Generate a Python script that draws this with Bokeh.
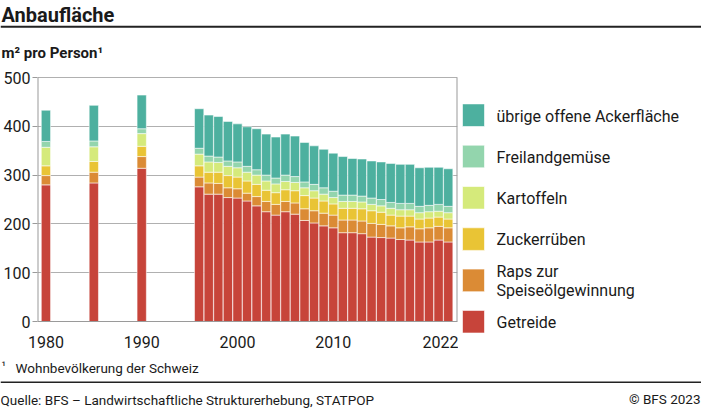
from bokeh.plotting import figure
from bokeh.layouts import column, row
from bokeh.models import ColumnDataSource, Label, BoxAnnotation, FixedTicker, Range1d
from bokeh.embed import file_html
from bokeh.resources import INLINE

# ---------------- data ----------------
years = [1980, 1985, 1990, 1996, 1997, 1998, 1999, 2000, 2001, 2002, 2003, 2004,
         2005, 2006, 2007, 2008, 2009, 2010, 2011, 2012, 2013, 2014, 2015, 2016,
         2017, 2018, 2019, 2020, 2021, 2022]
getreide = [280, 284, 314, 276, 261, 261, 254, 253, 247, 237, 225, 218,
            225, 220, 207, 202, 196, 192, 182, 182, 180, 173, 172, 171,
            168, 167, 163, 163, 167, 163]
raps = [19, 22, 24, 20, 23, 22, 20, 19, 16, 19, 21, 22,
        21, 23, 24, 25, 26, 26, 26, 26, 26, 28, 27, 25,
        24, 27, 27, 29, 28, 29]
zuckerrueben = [20, 22, 21, 23, 22, 23, 25, 24, 25, 25, 23, 24,
                24, 25, 27, 26, 25, 23, 24, 24, 25, 26, 25, 22,
                24, 22, 20, 20, 19, 18]
kartoffeln = [38, 30, 26, 24, 21, 20, 19, 19, 18, 19, 19, 18,
              17, 17, 16, 15, 14, 13, 14, 14, 14, 13, 13, 14,
              13, 13, 13, 13, 12, 13]
freilandgemuese = [12, 12, 10, 12, 12, 11, 11, 12, 12, 11, 12, 12,
                   13, 12, 12, 13, 13, 13, 13, 13, 12, 13, 13, 12,
                   13, 13, 13, 13, 14, 13]
uebrige = [64, 73, 69, 81, 84, 83, 81, 78, 81, 84, 84, 84,
           84, 83, 81, 79, 79, 78, 79, 75, 76, 76, 77, 80,
           80, 80, 79, 78, 76, 77]

series_keys = ["getreide", "raps", "zucker", "kartoffeln", "gemuese", "uebrige"]
series_labels = ["Getreide", "Raps zur\nSpeiseölgewinnung", "Zuckerrüben",
                 "Kartoffeln", "Freilandgemüse", "übrige offene Ackerfläche"]
colors = ["#c7443a", "#db8b35", "#e9c435", "#d5ea7b", "#93d5ad", "#4db09f"]

x_tick_labels = [1980, 1990, 2000, 2010, 2022]
y_tick_labels = [0, 100, 200, 300, 400, 500]
x_start, x_end = 1979.12, 2022.97
y_min, y_max = 0, 500

title_text = "Anbaufläche"
subtitle_text = "m² pro Person¹"
footnote_mark = "¹"
footnote_text = "Wohnbevölkerung der Schweiz"
source_text = "Quelle: BFS – Landwirtschaftliche Strukturerhebung, STATPOP"
copyright_text = "© BFS 2023"

# ---------------- styling / layout constants (pixels) ----------------
TXT = "#1a1a1a"
RULE = "#222222"
AXIS = "#9a9a9a"
GRID = "#b0b0b0"
FONT = "Roboto"

W = 701
HEAD_H, CHART_H, FOOT_H = 66, 286, 58
CHART_W = 458
LEG_W = W - CHART_W

FR_TOP, FR_BOT = 10, 17          # chart frame borders inside the chart figure
Y500_PX, Y0_PX = 11, 255         # pixel rows (chart figure) of 500 and 0
ppu = (Y0_PX - Y500_PX) / (y_max - y_min)
frame_bottom_px = CHART_H - FR_BOT
y_range_start = y_min - (frame_bottom_px - Y0_PX) / ppu
y_range_end = y_max + (Y500_PX - FR_TOP) / ppu


def blank(w, h, top=0, bottom=0):
    f = figure(width=w, height=h, output_backend="svg", toolbar_location=None,
               x_range=Range1d(0, w), y_range=Range1d(h - bottom, top),
               x_axis_type=None, y_axis_type=None,
               min_border_left=0, min_border_right=0, min_border_top=top,
               min_border_bottom=bottom, outline_line_color=None,
               background_fill_color="white", border_fill_color="white")
    f.grid.visible = False
    return f


def txt(f, x, y, s, size, bold=False, align="left"):
    f.add_layout(Label(x=x, y=y, text=s, text_font=FONT, text_font_size=size,
                       text_font_style="bold" if bold else "normal",
                       text_color=TXT, text_align=align, text_baseline="middle"))


def rule(f, y0, y1):
    f.add_layout(BoxAnnotation(left=0, right=f.width, top=y0, bottom=y1,
                               fill_color=RULE, fill_alpha=1, line_color=None))


# ---------------- header ----------------
head = blank(W, HEAD_H)
txt(head, 1, 14.2, title_text, "20px", bold=True)
rule(head, 25.2, 27.2)
txt(head, 1, 52.4, subtitle_text, "15px", bold=True)

# ---------------- chart ----------------
source = ColumnDataSource(dict(years=years, getreide=getreide, raps=raps,
                               zucker=zuckerrueben, kartoffeln=kartoffeln,
                               gemuese=freilandgemuese, uebrige=uebrige))

p = figure(width=CHART_W, height=CHART_H, output_backend="svg", toolbar_location=None,
           x_range=Range1d(x_start, x_end),
           y_range=Range1d(y_range_start, y_range_end),
           min_border_left=36, min_border_right=1, min_border_top=FR_TOP,
           min_border_bottom=FR_BOT, background_fill_color="white",
           border_fill_color="white", outline_line_color=None)

p.vbar_stack(series_keys, x="years", width=0.97, source=source, color=colors,
             line_color="white", line_alpha=0.55, line_width=1)

# frame lines: left/right verticals from 0 to 500, baseline at 0
p.segment(x0=[x_start, x_end], y0=[y_min, y_min], x1=[x_start, x_end],
          y1=[y_max, y_max], line_color=AXIS, line_width=2)
p.segment(x0=[x_start], y0=[y_min], x1=[x_end], y1=[y_min],
          line_color=AXIS, line_width=1)

p.xgrid.visible = False
p.ygrid.ticker = FixedTicker(ticks=y_tick_labels)
p.ygrid.grid_line_color = GRID
p.ygrid.grid_line_width = 1

p.xaxis.ticker = FixedTicker(ticks=x_tick_labels)
p.xaxis.major_tick_out = 0
p.xaxis.major_tick_in = 0
p.xaxis.minor_tick_out = 0
p.xaxis.minor_tick_in = 0
p.xaxis.major_label_standoff = 0
p.xaxis.axis_line_color = None

p.yaxis.ticker = FixedTicker(ticks=y_tick_labels)
p.yaxis.major_tick_out = 5
p.yaxis.major_tick_in = 0
p.yaxis.minor_tick_out = 0
p.yaxis.minor_tick_in = 0
p.yaxis.major_label_standoff = 2
p.yaxis.axis_line_color = None
p.yaxis.major_tick_line_color = AXIS

for ax in (p.xaxis, p.yaxis):
    ax.major_label_text_font = FONT
    ax.major_label_text_font_size = "16px"
    ax.major_label_text_color = TXT

# ---------------- legend ----------------
leg = blank(LEG_W, CHART_H, top=FR_TOP, bottom=FR_BOT)
leg_top = 48.7
leg_step = 41.3
half = 11.3
rev_labels = list(reversed(series_labels))
rev_colors = list(reversed(colors))
centers = [leg_top + i * leg_step for i in range(len(rev_labels))]
leg.quad(left=[4] * len(centers), right=[26] * len(centers),
         top=[c - half for c in centers], bottom=[c + half for c in centers],
         fill_color=rev_colors, line_color="white", line_alpha=0.6)
for lab, cy in zip(rev_labels, centers):
    lines = lab.split("\n")
    lh = 19
    for j, ln in enumerate(lines):
        yy = cy + 0.8 + (j - (len(lines) - 1) / 2) * lh
        txt(leg, 38, yy, ln, "16px")

# ---------------- footer ----------------
foot = blank(W, FOOT_H)
txt(foot, 1, 13.5, footnote_mark, "12px")
txt(foot, 15, 15.3, footnote_text, "13.5px")
rule(foot, 29.0, 30.5)
txt(foot, 0, 47.0, source_text, "13.5px")
txt(foot, 700, 46.5, copyright_text, "13.5px", align="right")

layout = column(head, row(p, leg), foot)

open("out.html", "w").write(file_html(layout, INLINE))
